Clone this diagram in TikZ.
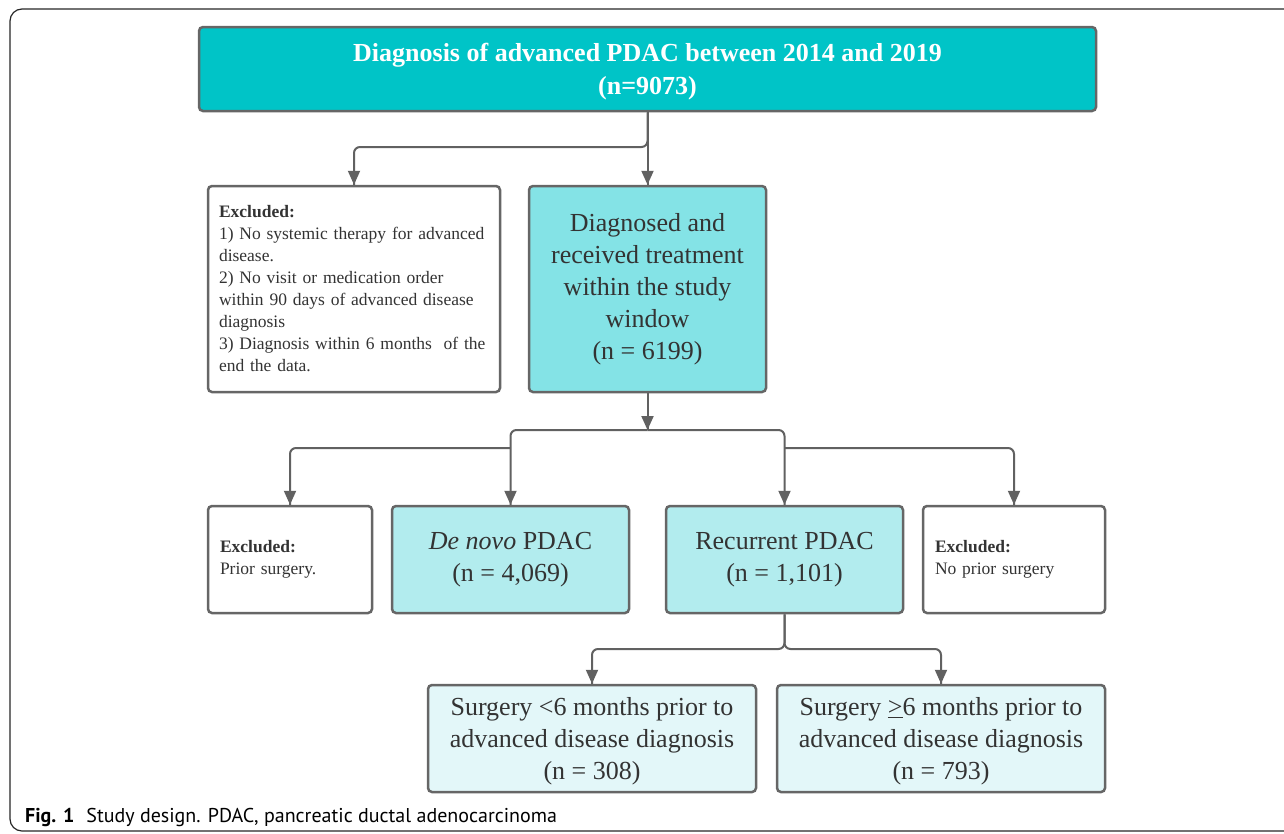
\documentclass[tikz,border=0pt]{standalone}
\usepackage{fontspec}
\setmainfont{Liberation Serif}
\newfontfamily\capfont{PT Sans}
\usetikzlibrary{arrows.meta,decorations.markings}
\definecolor{linegray}{HTML}{616161}
\definecolor{boxgray}{HTML}{666666}
\definecolor{txtgray}{HTML}{333333}
\definecolor{tealA}{HTML}{00C4C7}
\definecolor{tealB}{HTML}{84E3E6}
\definecolor{tealC}{HTML}{B2ECEE}
\definecolor{tealD}{HTML}{E3F7F9}
\tikzstyle{box}=[rectangle, draw=boxgray, line width=2.5pt, rounded corners=4pt,
    inner sep=0pt, text=txtgray, align=center, font=\fontsize{26}{32}\selectfont]
\tikzstyle{exbox}=[box, fill=white, align=left, font=\fontsize{17.5}{22}\selectfont]
\tikzstyle{hv}=[to path={-| (\tikztotarget)}]
\tikzstyle{via}=[to path={-- (#1) -| (\tikztotarget)}]
\newcommand{\flowbox}{\node[box]}

\begin{document}
\begin{tikzpicture}[x=1pt, y=-1pt
    ,every edge/.style={
        draw, linegray, line width=2pt, rounded corners=6pt,
        postaction={decorate,
                    decoration={markings,mark=at position 1 with
            {\arrow[linegray]{Triangle[width=12pt,length=14pt]}}} } }
]
\useasboundingbox (0,0) rectangle (1284,833);
\draw[line width=1.2pt, black!85, rounded corners=12pt]
    (1300,9) -- (10,9) -- (10,831) -- (1300,831);

\flowbox[fill=tealA, text=white, minimum width=897, minimum height=84, text depth=0pt,
    font=\bfseries\fontsize{26}{33}\selectfont] (top) at (647.5,69)
    {Diagnosis of advanced PDAC between 2014 and 2019\\(n=9073)};
\node[exbox, text width=270, minimum width=292, minimum height=206] (ex1) at (354,289)
    {\textbf{Excluded:}\\1) No systemic therapy for advanced\\disease.\\
     2) No visit or medication order\\within 90 days of advanced disease\\diagnosis\\
     3) Diagnosis within 6 months\ \ of the\\end the data.};
\flowbox[fill=tealB, minimum width=237, minimum height=206] (diag) at (647.5,289)
    {Diagnosed and\\received treatment\\within the study\\window\\(n = 6199)};

\node[exbox, text width=140, minimum width=164, minimum height=107] (ex2) at (290,559.5)
    {\textbf{Excluded:}\\Prior surgery.};
\flowbox[fill=tealC, minimum width=237, minimum height=107] (denovo) at (510.5,559.5)
    {\textit{De novo} PDAC\\(n = 4,069)};
\flowbox[fill=tealC, minimum width=237, minimum height=107] (recur) at (784.5,559.5)
    {Recurrent PDAC\\(n = 1,101)};
\node[exbox, text width=158, minimum width=182, minimum height=107] (ex3) at (1014,559.5)
    {\textbf{Excluded:}\\No prior surgery};

\flowbox[fill=tealD, minimum width=328, minimum height=107, text depth=0pt] (early) at (592,738.5)
    {Surgery <6 months prior to\\advanced disease diagnosis\\(n = 308)};
\flowbox[fill=tealD, minimum width=328, minimum height=107, text depth=0pt] (late) at (941,738.5)
    {Surgery \underline{>}6 months prior to\\advanced disease diagnosis\\(n = 793)};

\coordinate (b1) at (647.5,147);
\coordinate (j1) at (647.5,430);
\coordinate (j2) at (510.5,448);
\coordinate (j3) at (784.5,448);
\coordinate (j4) at (784.5,649);
\path
(top.south) edge (diag.north) edge[via=b1] (ex1.north)
(diag.south) edge (j1)
(j1) edge[hv] (denovo.north) edge[hv] (recur.north)
(j2) edge[hv] (ex2.north)
(j3) edge[hv] (ex3.north)
(recur.south) edge[via=j4] (early.north) edge[via=j4] (late.north)
;

\node[anchor=base west, inner sep=0pt, font=\capfont\fontsize{20}{22}\selectfont] (cap) at (25,822)
    {\textbf{Fig. 1}\hspace{12pt}Study design. PDAC, pancreatic ductal adenocarcinoma};
\end{tikzpicture}
\end{document}
